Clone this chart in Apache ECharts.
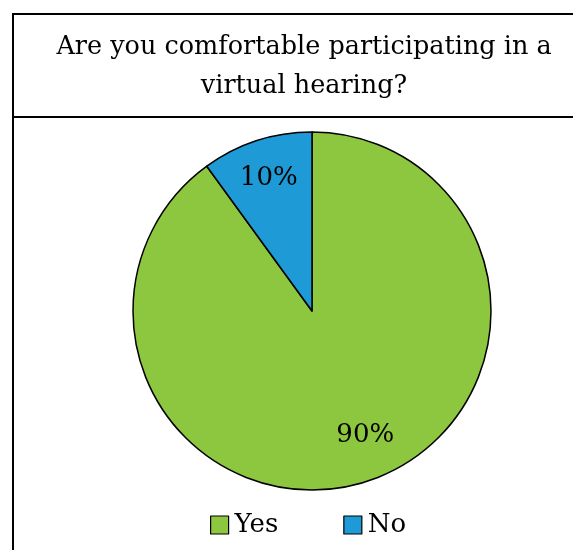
<!DOCTYPE html>
<html>
<head>
<meta charset="utf-8">
<script src="https://cdn.jsdelivr.net/npm/echarts@6/dist/echarts.min.js"></script>
<style>
  html, body { margin: 0; padding: 0; background: #fff; }
  #chart { width: 573px; height: 550px; }
</style>
</head>
<body>
<div id="chart"></div>
<script>
const categories = ['Yes', 'No'];
const values = [90, 10];
const colors = ['#8DC63F', '#1E9AD6'];

const font = 'DejaVu Serif';
const chart = echarts.init(document.getElementById('chart'));

const pieData = categories.map((name, i) => ({
  name,
  value: values[i],
  itemStyle: { color: colors[i] },
}));

chart.setOption({
  animation: false,
  title: {
    text: 'Are you comfortable participating in a\nvirtual hearing?',
    left: 299,
    textAlign: 'center',
    top: 23,
    textStyle: {
      fontFamily: font,
      fontSize: 25.5,
      fontWeight: 'normal',
      color: '#000',
      lineHeight: 39,
    },
  },
  legend: {
    data: categories,
    bottom: 7,
    left: 205,
    icon: 'rect',
    itemWidth: 18,
    itemHeight: 18,
    itemGap: 65,
    itemStyle: { borderColor: '#000', borderWidth: 1.2 },
    textStyle: { fontFamily: font, fontSize: 26, color: '#000', padding: [0, 0, 0, 1] },
  },
  graphic: [
    { type: 'line', shape: { x1: 13, y1: 14, x2: 573, y2: 14 }, style: { stroke: '#000', lineWidth: 2 } },
    { type: 'line', shape: { x1: 13, y1: 117, x2: 573, y2: 117 }, style: { stroke: '#000', lineWidth: 2 } },
    { type: 'line', shape: { x1: 13, y1: 13, x2: 13, y2: 550 }, style: { stroke: '#000', lineWidth: 2 } },
  ],
  series: [
    {
      type: 'pie',
      center: [312, 311],
      radius: 179,
      startAngle: 90,
      clockwise: true,
      label: { show: false },
      labelLine: { show: false },
      itemStyle: { borderColor: '#000', borderWidth: 1.5 },
      emphasis: { disabled: true },
      data: pieData,
    },
    {
      // transparent ring used only to place the percent labels
      type: 'pie',
      center: [312, 311],
      radius: 274,
      startAngle: 90,
      clockwise: true,
      silent: true,
      itemStyle: { color: 'rgba(0,0,0,0)', borderWidth: 0 },
      label: {
        show: true,
        position: 'inside',
        formatter: '{d}%',
        fontFamily: font,
        fontSize: 26,
        color: '#000',
      },
      labelLine: { show: false },
      emphasis: { disabled: true },
      legendHoverLink: false,
      data: categories.map((name, i) => ({
        name,
        value: values[i],
        label: i === 0 ? { offset: [10, -9] } : {},
      })),
    },
  ],
});
</script>
</body>
</html>
